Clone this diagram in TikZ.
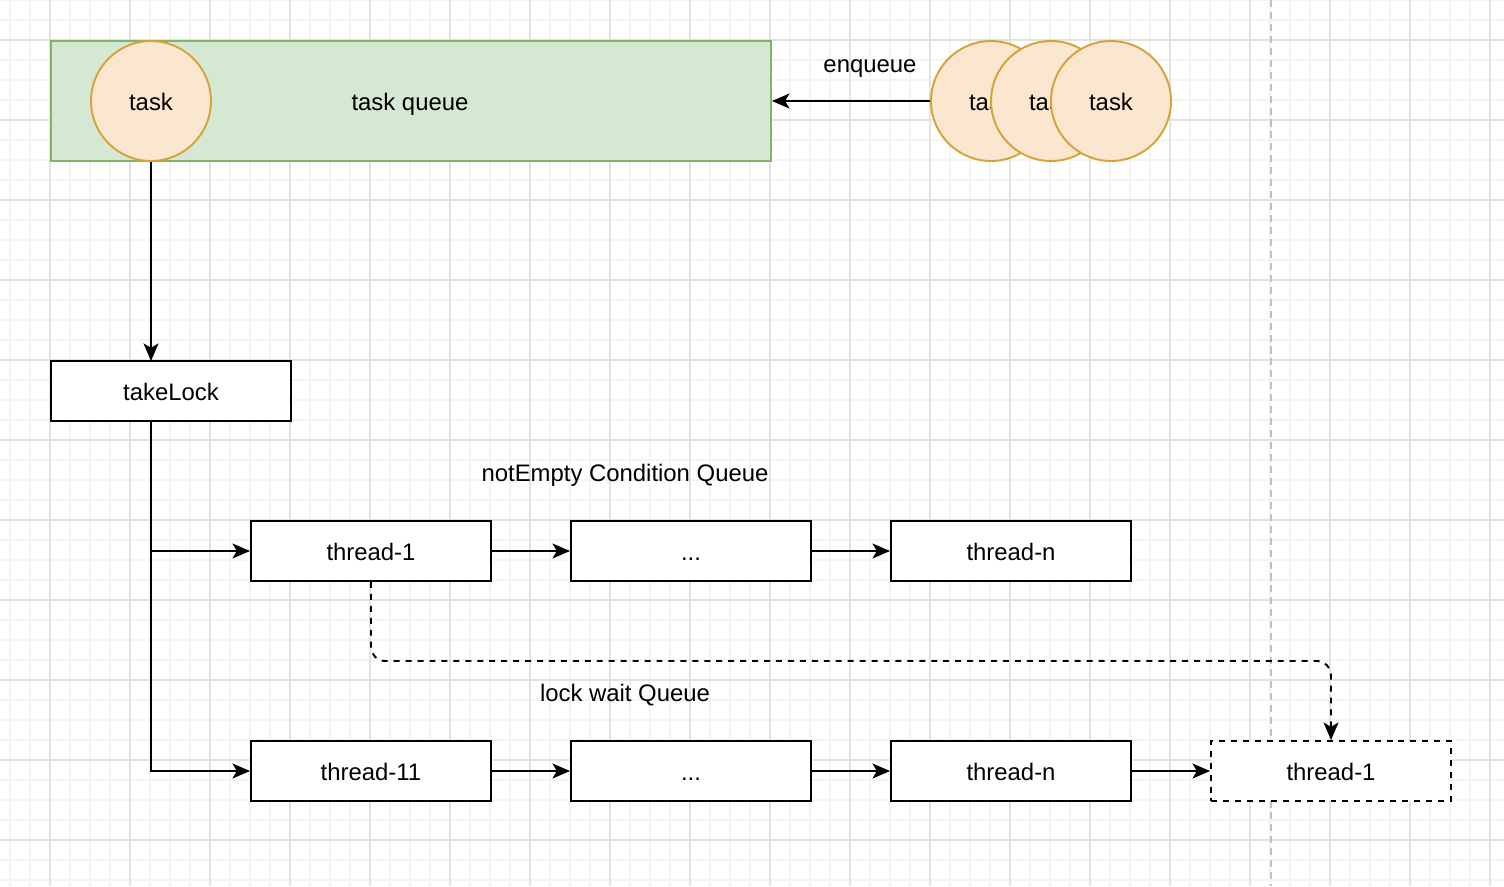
\documentclass[tikz,border=0pt]{standalone}
\usepackage{fontspec}
\setmainfont{Liberation Sans}
\usepackage{xcolor}
\usetikzlibrary{arrows.meta}
\definecolor{queuefill}{HTML}{D5E8D4}
\definecolor{queuedraw}{HTML}{82B366}
\definecolor{taskfill}{HTML}{FBE6CF}
\definecolor{taskdraw}{HTML}{D6A33A}
\definecolor{gridminor}{HTML}{F4F4F4}
\definecolor{gridmajor}{HTML}{E2E2E2}
\definecolor{splitgray}{HTML}{C0C0C0}
\tikzset{
  taskcircle/.style={circle, draw=taskdraw, fill=taskfill, line width=1.1pt, minimum size=2.4cm, inner sep=0pt},
  threadbox/.style={rectangle, draw=black, fill=white, line width=1.1pt, minimum width=4.8cm, minimum height=1.2cm, inner sep=0pt},
  flow/.style={line width=1.1pt, -{Stealth[length=10pt, width=8.5pt, inset=2.5pt]}},
  dashpat/.style={dash pattern=on 3.4pt off 3.4pt}
}

\begin{document}
\begin{tikzpicture}[x=0.02cm, y=-0.02cm, every node/.style={font=\fontsize{13.6pt}{16pt}\selectfont, text height=12pt, text depth=1.5pt}]
\useasboundingbox (0,0) rectangle (1504,886);
% background grid
\foreach \gx in {10,30,...,1500} \draw[gridminor, line width=0.6pt] (\gx,0) -- (\gx,886);
\foreach \gy in {0,20,...,880} \draw[gridminor, line width=0.6pt] (0,\gy) -- (1504,\gy);
\foreach \gx in {50,130,...,1500} \draw[gridmajor, line width=0.6pt] (\gx,0) -- (\gx,886);
\foreach \gy in {40,120,...,880} \draw[gridmajor, line width=0.6pt] (0,\gy) -- (1504,\gy);
\draw[splitgray, line width=1.1pt, dash pattern=on 4pt off 2.8pt] (1271,0) -- (1271,886);

% task queue
\node[rectangle, draw=queuedraw, fill=queuefill, line width=1.1pt, minimum width=14.4cm, minimum height=2.4cm, inner sep=0pt] (queue) at (411,101) {};
\node (queuelabel) at (410,101) {task queue};
\node[taskcircle] (head) at (151,101) {task};

% incoming tasks
\node[taskcircle] (task1) at (991,101) {task};
\node[taskcircle] (task2) at (1051,101) {task};
\node[taskcircle] (task3) at (1111,101) {task};
\node (enqueue) at (870,63) {enqueue};
\draw[flow] (task1.west) -- (queue.east);

% lock
\node[threadbox] (lock) at (171,391) {takeLock};
\coordinate (locktop) at (151,361);
\coordinate (lockbot) at (151,421);
\draw[flow] (head.south) -- (locktop);

% notEmpty condition queue
\node (condlabel) at (625,472) {notEmpty Condition Queue};
\node[threadbox] (cond1) at (371,551) {thread-1};
\node[threadbox] (conddots) at (691,551) {...};
\node[threadbox] (condn) at (1011,551) {thread-n};
\draw[flow] (cond1) -- (conddots);
\draw[flow] (conddots) -- (condn);

% lock wait queue
\node (waitlabel) at (625,692) {lock wait Queue};
\node[threadbox] (wait1) at (371,771) {thread-11};
\node[threadbox] (waitdots) at (691,771) {...};
\node[threadbox] (waitn) at (1011,771) {thread-n};
\node[threadbox, dashpat] (moved) at (1331,771) {thread-1};
\draw[flow] (wait1) -- (waitdots);
\draw[flow] (waitdots) -- (waitn);
\draw[flow] (waitn) -- (moved);

% branches from takeLock
\draw[flow] (lockbot) |- (cond1.west);
\draw[flow] (lockbot) |- (wait1.west);

% signal moves thread-1
\draw[flow, dashpat, rounded corners=8pt] (cond1.south) -- (371,661) -- (1331,661) -- (moved.north);
\end{tikzpicture}
\end{document}
